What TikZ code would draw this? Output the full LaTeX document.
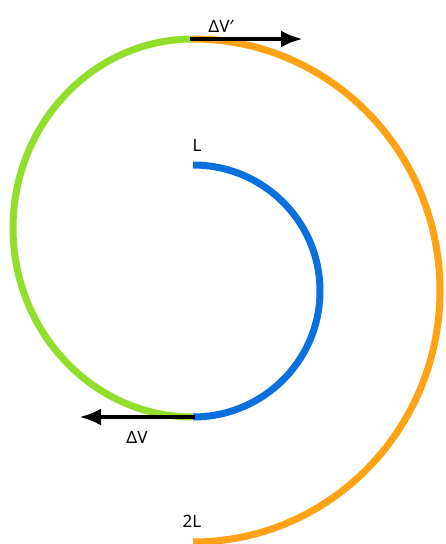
\documentclass[tikz,border=0pt]{standalone}
\usepackage{fontspec}
\setmainfont{Noto Sans}
\usetikzlibrary{arrows.meta}
\definecolor{cblue}{RGB}{10,112,222}
\definecolor{cgreen}{RGB}{145,222,45}
\definecolor{corange}{RGB}{255,162,20}
\begin{document}
\begin{tikzpicture}[x=1pt,y=1pt,
  curve/.style={line width=7pt},
  vec/.style={line width=4.5pt,-{Latex[length=22pt,width=17pt]}},
  lbl/.style={font=\fontsize{17}{20}\selectfont, inner sep=0pt}]
\useasboundingbox (0,0) rectangle (446,544);
\coordinate (bs) at (193,379);
\coordinate (bg) at (193,127);
\coordinate (go) at (193,505);
\coordinate (oe) at (193,2);
\coordinate (tr) at (303,505);
\coordinate (bl) at (79,127);
\draw[curve,cblue] (bs) arc[start angle=90,end angle=-90,x radius=127,y radius=126];
\draw[curve,cgreen] (bg) arc[start angle=270,end angle=90,x radius=180,y radius=189];
\draw[curve,corange] (go) arc[start angle=90,end angle=-90,x radius=247,y radius=251.5];
\draw[vec] ([xshift=-3pt]go) -- (tr);
\draw[vec] ([xshift=2pt]bg) -- (bl);
\node[lbl] (dvp) at (221,518) {ΔV′};
\node[lbl] (dv) at (137,107) {ΔV};
\node[lbl] (l) at (197,399) {L};
\node[lbl] (l2) at (192,23) {2L};
\end{tikzpicture}
\end{document}
